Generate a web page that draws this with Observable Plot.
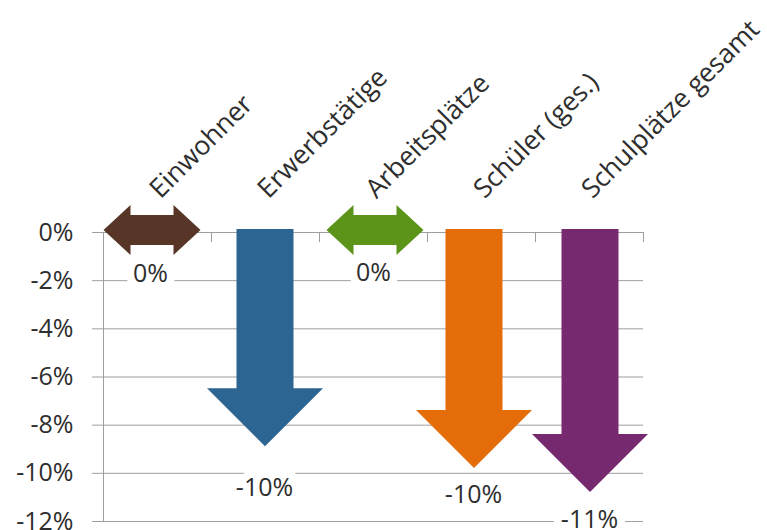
<!DOCTYPE html>
<html><head><meta charset="utf-8">
<style>body{margin:0;background:#fff}</style>
<script src="https://cdn.jsdelivr.net/npm/d3@7"></script>
<script src="https://cdn.jsdelivr.net/npm/@observablehq/plot@0.6"></script>
</head><body><div id="chart"></div>
<script>
const categories = ["Einwohner", "Erwerbstätige", "Arbeitsplätze", "Schüler (ges.)", "Schulplätze gesamt"];
const changeLabels = ["0%", "-10%", "0%", "-10%", "-11%"];
const arrowEnds = [0, -8.9, 0, -9.8, -10.8];
const arrowKinds = ["both", "down", "both", "down", "down"];
const colors = ["#573628", "#2c6591", "#5b9419", "#e46d0a", "#76296e"];
const yTicks = [0, -2, -4, -6, -8, -10, -12];

const FONT = "Open Sans";
const TEXT = "#2e2e2e";
const GRID = "#9e9e9e";
const arrowShift = [-5, 0, 2, -7, 1];
const labelShift = [-7, -1, 0, -8, 0];
const labelDy = [41, 41, 40, 26, 27];
const idx = categories.map((c, i) => i);

function arrows(index, scales) {
  const g = d3.create("svg:g");
  idx.forEach(i => {
    const cx = scales.x(i + 0.5) + arrowShift[i];
    const y0 = scales.y(0) - 2;
    let pts;
    if (arrowKinds[i] === "both") {
      const L = 48.5, hl = 27, hh = 25, sh = 15;
      pts = [[cx - L, y0], [cx - L + hl, y0 - hh], [cx - L + hl, y0 - sh], [cx + L - hl, y0 - sh],
             [cx + L - hl, y0 - hh], [cx + L, y0], [cx + L - hl, y0 + hh], [cx + L - hl, y0 + sh],
             [cx - L + hl, y0 + sh], [cx - L + hl, y0 + hh]];
    } else {
      const yt = scales.y(arrowEnds[i]);
      const hl = 58, hw = 58, sw = 28.5;
      pts = [[cx - sw, y0 - 1], [cx + sw, y0 - 1], [cx + sw, yt - hl], [cx + hw, yt - hl],
             [cx, yt], [cx - hw, yt - hl], [cx - sw, yt - hl]];
    }
    g.append("path").attr("d", "M" + pts.map(p => p.join(",")).join("L") + "Z").attr("fill", colors[i]);
  });
  return g.node();
}

const plot = Plot.plot({
  width: 767,
  height: 530,
  marginTop: 232,
  marginBottom: 9,
  marginLeft: 103,
  marginRight: 124,
  style: {fontFamily: FONT, fontSize: "25px", color: TEXT, background: "#fff"},
  x: {domain: [0, categories.length], axis: null},
  y: {domain: [-12, 0], axis: null},
  marks: [
    Plot.ruleY(yTicks, {stroke: GRID, strokeWidth: 1, insetLeft: -11}),
    Plot.ruleX([0], {y1: -12, y2: 0, stroke: GRID, strokeWidth: 1}),
    Plot.ruleX(idx.map(i => i + 1), {y1: 0, y2: -0.42, stroke: GRID, strokeWidth: 1}),
    Plot.text(yTicks, {x: 0, y: d => d, text: d => d + "%", textAnchor: "end", dx: -30,
      fontSize: 25, fill: TEXT, fontFamily: FONT}),
    Plot.text(idx, {x: i => i + 0.5, y: 0, text: i => categories[i], rotate: -45,
      textAnchor: "start", lineAnchor: "bottom", dx: 3, dy: -33,
      fontSize: 26.5, fill: TEXT, fontFamily: FONT}),
    ...idx.map(i => Plot.text([i], {x: d => d + 0.5, y: d => arrowEnds[d], text: d => changeLabels[d],
      dx: labelShift[i], dy: labelDy[i], fontSize: 25, fill: TEXT, fontFamily: FONT,
      stroke: "#fff", strokeWidth: 16, strokeLinejoin: "round", paintOrder: "stroke"})),
    arrows
  ]
});
document.getElementById("chart").appendChild(plot);
</script>
</body></html>
